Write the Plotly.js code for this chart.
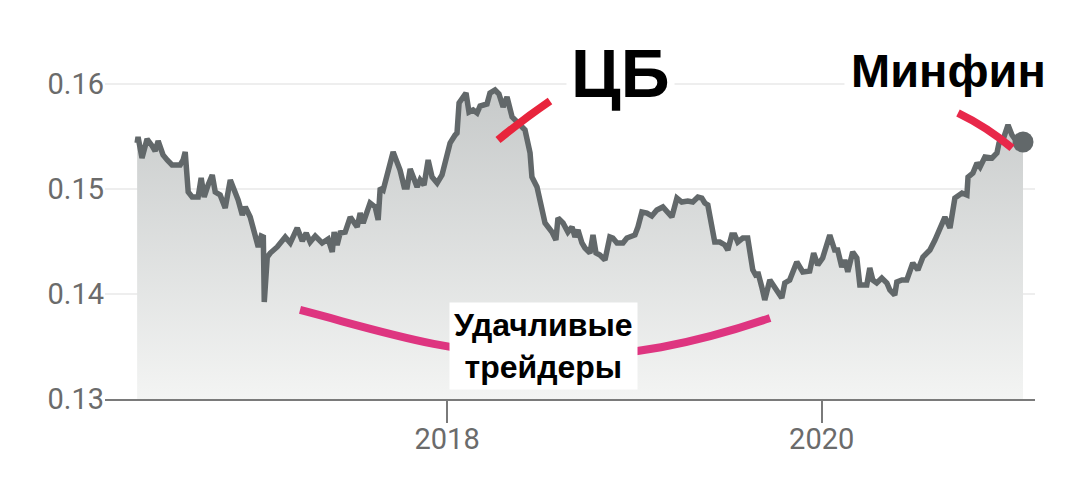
<!DOCTYPE html>
<html>
<head>
<meta charset="utf-8">
<script src="https://cdn.plot.ly/plotly-3.0.1.min.js"></script>
<style>
  html, body { margin: 0; padding: 0; background: #ffffff; }
  #chart { width: 1080px; height: 489px; }
</style>
</head>
<body>
<div id="chart"></div>
<script>
// Time as decimal years
const years = [
  2016.347, 2016.352, 2016.373, 2016.400, 2016.427, 2016.443, 2016.459, 2016.485, 2016.507, 2016.533,
  2016.576, 2016.592, 2016.603, 2016.619, 2016.640, 2016.672, 2016.688, 2016.704, 2016.725, 2016.747,
  2016.763, 2016.789, 2016.816, 2016.843, 2016.864, 2016.885, 2016.907, 2016.923, 2016.949, 2016.976,
  2016.992, 2017.008, 2017.019, 2017.024, 2017.040, 2017.056, 2017.093, 2017.136, 2017.163, 2017.200,
  2017.227, 2017.248, 2017.269, 2017.296, 2017.333, 2017.365, 2017.387, 2017.397, 2017.413, 2017.429,
  2017.456, 2017.483, 2017.520, 2017.536, 2017.552, 2017.589, 2017.616, 2017.632, 2017.643, 2017.659,
  2017.680, 2017.712, 2017.749, 2017.771, 2017.787, 2017.803, 2017.840, 2017.856, 2017.877, 2017.899,
  2017.920, 2017.947, 2017.973, 2018.016, 2018.043, 2018.053, 2018.064, 2018.101, 2018.117, 2018.139,
  2018.160, 2018.176, 2018.213, 2018.229, 2018.256, 2018.277, 2018.299, 2018.320, 2018.347, 2018.373,
  2018.416, 2018.443, 2018.453, 2018.480, 2018.507, 2018.523, 2018.560, 2018.581, 2018.592, 2018.619,
  2018.645, 2018.667, 2018.683, 2018.699, 2018.720, 2018.736, 2018.763, 2018.779, 2018.795, 2018.816,
  2018.843, 2018.869, 2018.885, 2018.907, 2018.939, 2018.960, 2019.003, 2019.019, 2019.040, 2019.067,
  2019.093, 2019.120, 2019.152, 2019.179, 2019.200, 2019.227, 2019.253, 2019.285, 2019.312, 2019.339,
  2019.360, 2019.376, 2019.392, 2019.429, 2019.456, 2019.483, 2019.499, 2019.520, 2019.536, 2019.552,
  2019.579, 2019.605, 2019.632, 2019.653, 2019.659, 2019.680, 2019.696, 2019.723, 2019.749, 2019.787,
  2019.803, 2019.829, 2019.867, 2019.899, 2019.936, 2019.957, 2019.979, 2020.005, 2020.043, 2020.069,
  2020.085, 2020.107, 2020.123, 2020.139, 2020.165, 2020.187, 2020.203, 2020.240, 2020.256, 2020.272,
  2020.293, 2020.320, 2020.347, 2020.363, 2020.389, 2020.400, 2020.427, 2020.453, 2020.485, 2020.512,
  2020.539, 2020.576, 2020.603, 2020.629, 2020.656, 2020.683, 2020.709, 2020.747, 2020.773, 2020.779,
  2020.805, 2020.827, 2020.843, 2020.869, 2020.907, 2020.933, 2020.944, 2020.965, 2020.992, 2021.013,
  2021.040, 2021.072
];
const rate = [
  0.15438, 0.15495, 0.15295, 0.15476, 0.15410, 0.15362, 0.15457, 0.15324, 0.15276, 0.15229,
  0.15229, 0.15276, 0.15352, 0.14971, 0.14924, 0.14924, 0.15105, 0.14924, 0.15038, 0.15133,
  0.14971, 0.14943, 0.14819, 0.15086, 0.14990, 0.14895, 0.14752, 0.14829, 0.14733, 0.14543,
  0.14448, 0.14552, 0.14543, 0.13924, 0.14352, 0.14390, 0.14448, 0.14543, 0.14486, 0.14629,
  0.14505, 0.14581, 0.14495, 0.14552, 0.14486, 0.14524, 0.14400, 0.14590, 0.14467, 0.14581,
  0.14590, 0.14733, 0.14638, 0.14771, 0.14676, 0.14867, 0.14829, 0.14705, 0.15010, 0.14990,
  0.15152, 0.15352, 0.15181, 0.15019, 0.15019, 0.15190, 0.15019, 0.15086, 0.15038, 0.15276,
  0.15114, 0.15057, 0.15133, 0.15438, 0.15514, 0.15533, 0.15819, 0.15914, 0.15733, 0.15752,
  0.15724, 0.15790, 0.15810, 0.15914, 0.15943, 0.15905, 0.15781, 0.15876, 0.15686, 0.15638,
  0.15562, 0.15343, 0.15114, 0.15019, 0.14800, 0.14676, 0.14590, 0.14514, 0.14724, 0.14676,
  0.14590, 0.14638, 0.14543, 0.14610, 0.14486, 0.14438, 0.14390, 0.14562, 0.14390, 0.14371,
  0.14324, 0.14543, 0.14533, 0.14486, 0.14486, 0.14533, 0.14562, 0.14638, 0.14781, 0.14771,
  0.14743, 0.14800, 0.14829, 0.14781, 0.14733, 0.14914, 0.14876, 0.14886, 0.14876, 0.14924,
  0.14914, 0.14867, 0.14848, 0.14495, 0.14495, 0.14467, 0.14419, 0.14562, 0.14562, 0.14495,
  0.14533, 0.14533, 0.14229, 0.14162, 0.14210, 0.14067, 0.13943, 0.14133, 0.14067, 0.13962,
  0.14105, 0.14133, 0.14305, 0.14210, 0.14219, 0.14390, 0.14276, 0.14343, 0.14562, 0.14419,
  0.14419, 0.14257, 0.14324, 0.14210, 0.14400, 0.14343, 0.14086, 0.14086, 0.14248, 0.14133,
  0.14105, 0.14152, 0.14105, 0.14038, 0.13990, 0.14114, 0.14133, 0.14133, 0.14295, 0.14229,
  0.14352, 0.14419, 0.14514, 0.14629, 0.14733, 0.14629, 0.14914, 0.14962, 0.14943, 0.15114,
  0.15152, 0.15248, 0.15210, 0.15305, 0.15295, 0.15343, 0.15438, 0.15467, 0.15610, 0.15514,
  0.15448, 0.15448
];
const xTickYears = [2018, 2020];
const xTickLabels = ['2018', '2020'];
const yTickValues = [0.13, 0.14, 0.15, 0.16];
const yTickLabels = ['0.13', '0.14', '0.15', '0.16'];
const xRangeYears = [2016.176, 2021.136];
const yRange = [0.13, 0.162];
const notes = ['ЦБ', 'Минфин', 'Удачливые', 'трейдеры'];

function toDate(t) {
  const y = Math.floor(t);
  const a = Date.UTC(y, 0, 1), b = Date.UTC(y + 1, 0, 1);
  return new Date(a + (t - y) * (b - a)).toISOString().slice(0, 19).replace('T', ' ');
}

const xs = years.map(toDate);
const lineColor = '#62686a';
const tickFont = { family: 'Roboto, sans-serif', size: 29, color: '#6b6b6b' };

const traces = [
  {
    type: 'scatter', mode: 'lines', x: xs, y: rate,
    line: { color: lineColor, width: 5.5 },
    fill: 'tozeroy',
    fillgradient: { type: 'vertical', start: 0.13, stop: 0.16,
      colorscale: [[0, '#f3f4f3'], [1, '#c6c9c9']] },
    hoverinfo: 'skip'
  },
  {
    type: 'scatter', mode: 'markers',
    x: [xs[xs.length - 1]], y: [rate[rate.length - 1]],
    marker: { color: lineColor, size: 21 },
    cliponaxis: false, hoverinfo: 'skip'
  }
];

const annFont = (s) => ({ family: 'Liberation Sans, Arial, sans-serif', size: s, color: '#000000' });

const layout = {
  width: 1080, height: 489,
  margin: { l: 105, r: 45, t: 63, b: 90 },
  paper_bgcolor: '#ffffff', plot_bgcolor: '#ffffff',
  showlegend: false,
  xaxis: {
    type: 'date',
    range: xRangeYears.map(toDate),
    tickvals: xTickYears.map(toDate), ticktext: xTickLabels,
    ticks: 'outside', ticklen: 22, tickwidth: 2, tickcolor: '#7a7a7a',
    ticklabelstandoff: -9,
    showline: true, linecolor: '#7a7a7a', linewidth: 2,
    showgrid: false, zeroline: false,
    tickfont: tickFont
  },
  yaxis: {
    range: yRange,
    tickvals: yTickValues, ticktext: yTickLabels,
    showgrid: true, gridcolor: '#eeeeee', gridwidth: 2,
    zeroline: false, showline: false, ticks: '',
    tickfont: tickFont
  },
  shapes: [
    { type: 'path', xref: 'paper', yref: 'paper', layer: 'above',
      path: 'M 0.2097 0.2649 C 0.3 0.2 0.36 0.14 0.4677 0.128 C 0.56 0.118 0.64 0.17 0.7151 0.2411',
      line: { color: '#de3580', width: 8 } },
    { type: 'path', xref: 'paper', yref: 'paper', layer: 'above',
      path: 'M 0.4226 0.7708 Q 0.4516 0.8363 0.4785 0.8869',
      line: { color: '#e8243c', width: 8 } },
    { type: 'path', xref: 'paper', yref: 'paper', layer: 'above',
      path: 'M 0.9172 0.8512 Q 0.9484 0.8095 0.9753 0.7470',
      line: { color: '#e8284a', width: 8 } }
  ],
  annotations: [
    { xref: 'paper', yref: 'paper', x: 0.5548, y: 0.9702, xanchor: 'center', yanchor: 'middle',
      showarrow: false,
      text: '<b>' + notes[0] + '</b>', font: annFont(68), bgcolor: '#ffffff', borderpad: 4 },
    { xref: 'paper', yref: 'paper', x: 0.9075, y: 0.9762, xanchor: 'center', yanchor: 'middle',
      showarrow: false,
      text: '<b>' + notes[1] + '</b>', font: annFont(47), bgcolor: '#ffffff', borderpad: 6 },
    { xref: 'paper', yref: 'paper', x: 0.472, y: 0.1577, xanchor: 'center', yanchor: 'middle',
      showarrow: false,
      text: '<b>' + notes[2] + '</b><br><b>' + notes[3] + '</b>', font: annFont(32),
      bgcolor: '#ffffff', borderpad: 4 }
  ]
};

Plotly.newPlot('chart', traces, layout, { displayModeBar: false, staticPlot: true });
</script>
</body>
</html>
